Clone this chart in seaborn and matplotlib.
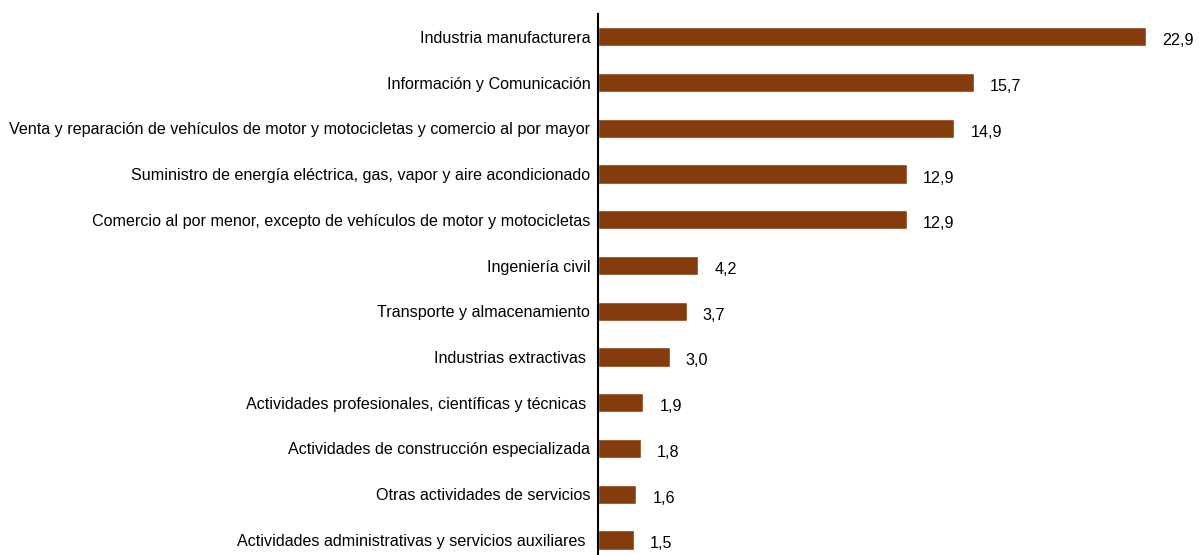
import pandas as pd
import seaborn as sns
import matplotlib.pyplot as plt

# Data
categories = [
    "Industria manufacturera",
    "Información y Comunicación",
    "Venta y reparación de vehículos de motor y motocicletas y comercio al por mayor",
    "Suministro de energía eléctrica, gas, vapor y aire acondicionado",
    "Comercio al por menor, excepto de vehículos de motor y motocicletas",
    "Ingeniería civil",
    "Transporte y almacenamiento",
    "Industrias extractivas ",
    "Actividades profesionales, científicas y técnicas ",
    "Actividades de construcción especializada",
    "Otras actividades de servicios",
    "Actividades administrativas y servicios auxiliares ",
]
values = [22.9, 15.7, 14.9, 12.9, 12.9, 4.2, 3.7, 3.0, 1.9, 1.8, 1.6, 1.5]

df = pd.DataFrame({"sector": categories, "valor": values})

sns.set_theme(style="white")
plt.rcParams["font.family"] = ["Liberation Sans", "DejaVu Sans"]

FS = 11.6

fig = plt.figure(figsize=(11.99, 5.55), dpi=100)
ax = fig.add_axes([598 / 1199, 0, (1196 - 598) / 1199, 1 - 14 / 555])

sns.barplot(data=df, x="valor", y="sector", color="#843C0C", width=0.42,
            saturation=1, ax=ax)

ax.set_xlim(0, 25)
ax.set_ylim(11.33, -0.5)
ax.set_xlabel("")
ax.set_ylabel("")
ax.set_xticks([])
ax.tick_params(axis="y", length=0, pad=5.5, labelsize=FS, labelcolor="#000000")

for side in ["top", "right", "bottom"]:
    ax.spines[side].set_visible(False)
ax.spines["left"].set_color("black")
ax.spines["left"].set_linewidth(1.5)

# value labels, slightly below bar centre like the original
for bar, v in zip(ax.patches, values):
    ax.annotate(f"{v:.1f}".replace(".", ","),
                xy=(bar.get_width(), bar.get_y() + bar.get_height() / 2),
                xytext=(16, -4), textcoords="offset pixels",
                ha="left", va="center", fontsize=FS, color="#000000")

plt.savefig("out.png", dpi=100)
